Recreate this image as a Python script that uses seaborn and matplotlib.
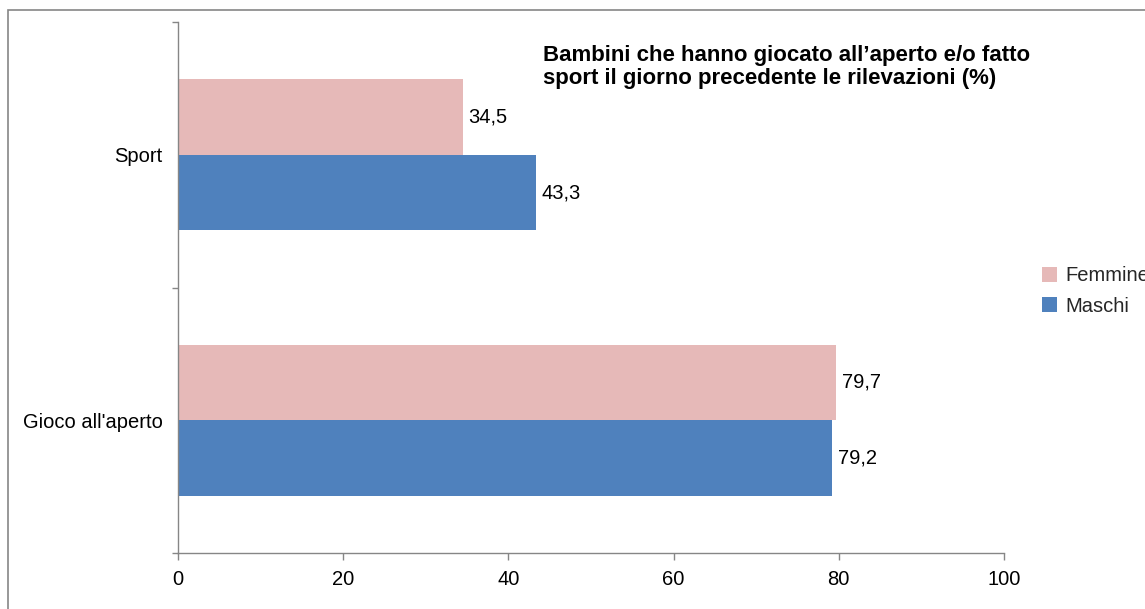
import matplotlib
matplotlib.use("Agg")
import matplotlib.pyplot as plt
import matplotlib.patches as mpatches
import seaborn as sns
import pandas as pd

categories = ["Sport", "Gioco all'aperto"]
series_names = ["Femmine", "Maschi"]
femmine = [34.5, 79.7]
maschi = [43.3, 79.2]
x_ticks = [0, 20, 40, 60, 80, 100]
title = "Bambini che hanno giocato all\u2019aperto e/o fatto\nsport il giorno precedente le rilevazioni (%)"
colors = ["#E6B9B8", "#4F81BD"]

sns.set_theme(style="white")
plt.rcParams['font.family'] = ['Liberation Sans', 'DejaVu Sans']

rows = []
for i, c in enumerate(categories):
    rows.append({"cat": c, "sesso": series_names[0], "val": femmine[i]})
    rows.append({"cat": c, "sesso": series_names[1], "val": maschi[i]})
df = pd.DataFrame(rows)

FS = 14.5
W, H = 1145, 609
fig = plt.figure(figsize=(W / 100, H / 100), dpi=100)
ax = fig.add_axes([178 / W, 1 - 553 / H, (1004 - 178) / W, (553 - 22) / H])

sns.barplot(data=df, y="cat", x="val", hue="sesso", order=categories,
            hue_order=series_names, palette=colors, orient="h",
            width=0.57, gap=0, saturation=1, errorbar=None, ax=ax, legend=True,
            linewidth=0)

ax.set_xlim(0, 100)
ax.set_ylim(1.5, -0.5)
ax.set_xticks(x_ticks)
ax.set_xticklabels([str(t) for t in x_ticks], fontsize=FS)
ax.set_yticks(range(len(categories)))
ax.set_yticklabels(categories, fontsize=FS)
ax.set_yticks([-0.5, 0.5, 1.5], minor=True)
ax.tick_params(axis="y", which="major", length=0, pad=11, colors="black")
ax.tick_params(axis="y", which="minor", length=4.5, width=1, color="#868686", left=True)
ax.tick_params(axis="x", which="major", length=5, width=1, color="#868686", bottom=True, pad=7, labelcolor="black")
ax.set_xlabel("")
ax.set_ylabel("")
for s in ["top", "right"]:
    ax.spines[s].set_visible(False)
for s in ["left", "bottom"]:
    ax.spines[s].set_color("#868686")
    ax.spines[s].set_linewidth(1)
ax.grid(False)

for cont in ax.containers:
    labels = [f"{v:.1f}".replace(".", ",") for v in cont.datavalues]
    ax.bar_label(cont, labels=labels, padding=4, fontsize=FS, color="black")

handles, labs = ax.get_legend_handles_labels()
ax.legend(handles, labs, loc="center left", bbox_to_anchor=(1038 / W, 1 - 291 / H),
          bbox_transform=fig.transFigure, frameon=False, fontsize=FS,
          handlelength=0.75, handleheight=0.75, handletextpad=0.4, labelspacing=0.55,
          borderaxespad=0, borderpad=0.2)

fig.text(543 / W, 1 - 45 / H, title, fontsize=16, fontweight="bold",
         ha="left", va="top", linespacing=1.12, color="black")

border = mpatches.Rectangle((8 / W, -0.1), 2, 1 - 10 / H + 0.1, transform=fig.transFigure,
                            fill=False, edgecolor="#868686", linewidth=1.2, clip_on=False)
fig.patches.append(border)

fig.savefig("out.png", dpi=100)
